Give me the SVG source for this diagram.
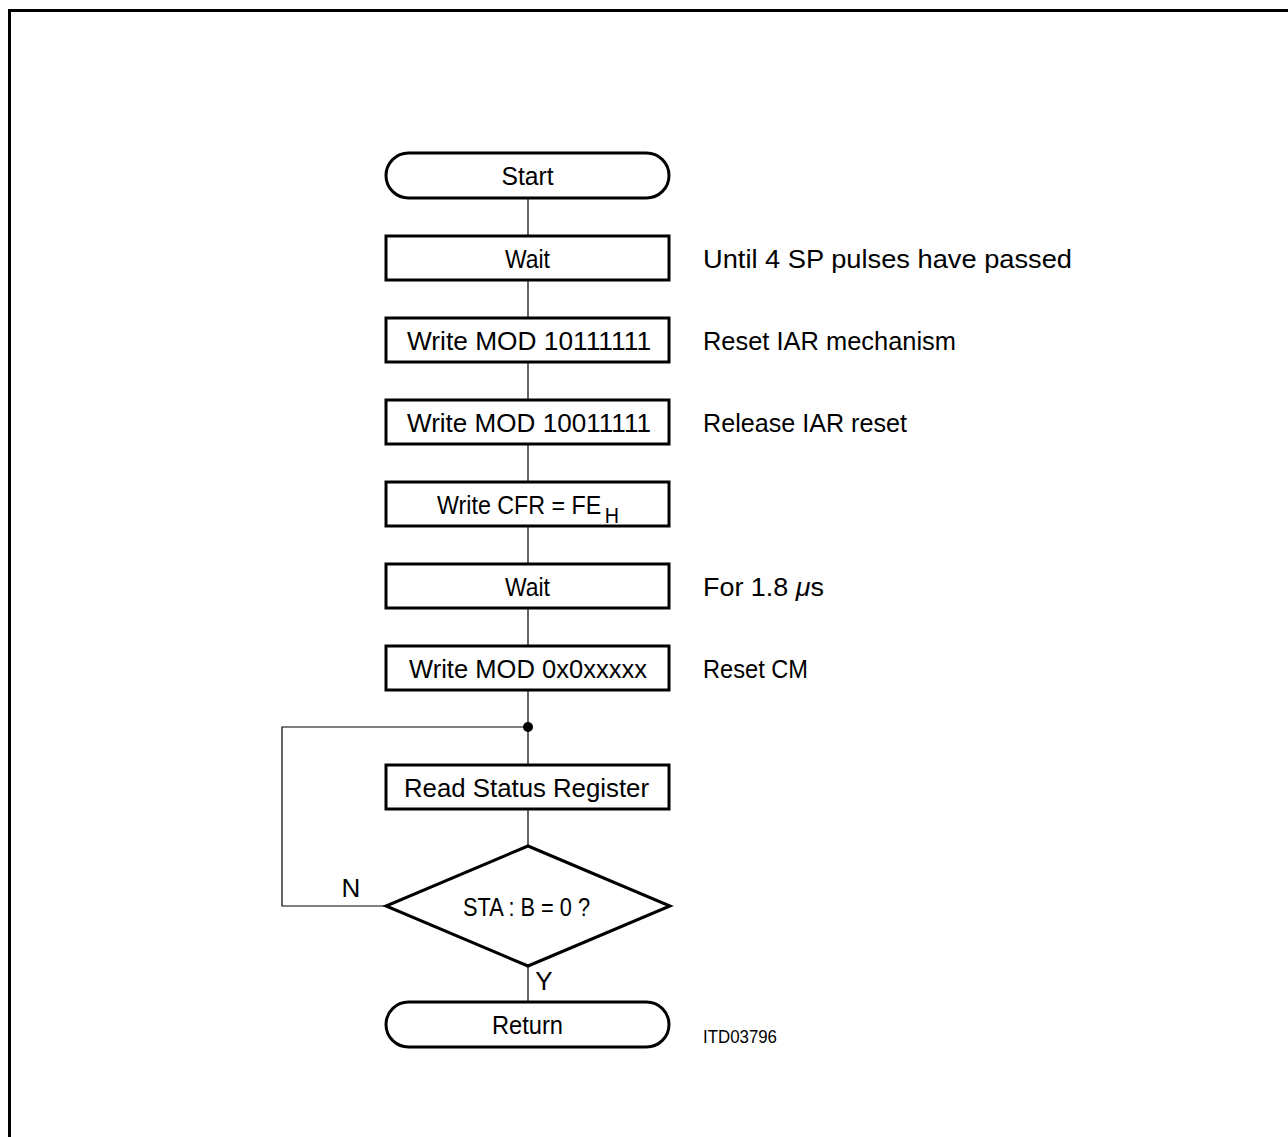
<svg xmlns="http://www.w3.org/2000/svg" width="1288" height="1137" viewBox="0 0 1288 1137">
<style>
.box{fill:#fff;stroke:#000;stroke-width:3}
.con{fill:none;stroke:#000;stroke-width:1.2}
text{font-family:"Liberation Sans",Arial,sans-serif;font-size:26px;fill:#000}
.c{text-anchor:middle}
.sm{font-size:19px}
</style>
<rect x="9.5" y="10.5" width="1300" height="1150" fill="none" stroke="#000" stroke-width="3"/>
<g id="connectors">
<line class="con" x1="528" y1="198" x2="528" y2="236"/>
<line class="con" x1="528" y1="280" x2="528" y2="318"/>
<line class="con" x1="528" y1="362" x2="528" y2="400"/>
<line class="con" x1="528" y1="444" x2="528" y2="482"/>
<line class="con" x1="528" y1="526" x2="528" y2="564"/>
<line class="con" x1="528" y1="608" x2="528" y2="646"/>
<line class="con" x1="528" y1="690" x2="528" y2="765"/>
<line class="con" x1="528" y1="809" x2="528" y2="846"/>
<line class="con" x1="528" y1="966" x2="528" y2="1002"/>
<polyline class="con" points="386,906 282,906 282,727 528,727"/>
<circle cx="528" cy="727" r="5" fill="#000"/>
<text x="351" y="897" class="c">N</text>
<text x="544" y="990" class="c">Y</text>
</g>
<g id="start">
<rect class="box" x="386" y="153" width="283" height="45" rx="22.5"/>
<text x="527.5" y="185" class="c" textLength="52" lengthAdjust="spacingAndGlyphs">Start</text>
</g>
<g id="wait1">
<rect class="box" x="386" y="236" width="283" height="44"/>
<text x="527.5" y="268" class="c" textLength="45" lengthAdjust="spacingAndGlyphs">Wait</text>
</g>
<g id="mod1">
<rect class="box" x="386" y="318" width="283" height="44"/>
<text x="529" y="350" class="c" textLength="244" lengthAdjust="spacingAndGlyphs">Write  MOD  10111111</text>
</g>
<g id="mod2">
<rect class="box" x="386" y="400" width="283" height="44"/>
<text x="529" y="432" class="c" textLength="244" lengthAdjust="spacingAndGlyphs">Write  MOD  10011111</text>
</g>
<g id="cfr">
<rect class="box" x="386" y="482" width="283" height="44"/>
<text x="437" y="514" textLength="182" lengthAdjust="spacingAndGlyphs">Write  CFR = FE<tspan dx="4" dy="9" font-size="22">H</tspan></text>
</g>
<g id="wait2">
<rect class="box" x="386" y="564" width="283" height="44"/>
<text x="527.5" y="596" class="c" textLength="45" lengthAdjust="spacingAndGlyphs">Wait</text>
</g>
<g id="mod3">
<rect class="box" x="386" y="646" width="283" height="44"/>
<text x="528" y="678" class="c" textLength="238" lengthAdjust="spacingAndGlyphs">Write  MOD  0x0xxxxx</text>
</g>
<g id="read">
<rect class="box" x="386" y="765" width="283" height="44"/>
<text x="526.5" y="797" class="c" textLength="245" lengthAdjust="spacingAndGlyphs">Read  Status  Register</text>
</g>
<g id="decision">
<polygon class="box" points="528,846 670,906 528,966 386,906"/>
<text x="526.5" y="916" class="c" textLength="127" lengthAdjust="spacingAndGlyphs">STA : B = 0 ?</text>
</g>
<g id="return">
<rect class="box" x="386" y="1002" width="283" height="45" rx="22.5"/>
<text x="527.5" y="1034" class="c" textLength="71" lengthAdjust="spacingAndGlyphs">Return</text>
</g>
<g id="notes">
<text x="703" y="268" textLength="369" lengthAdjust="spacingAndGlyphs">Until  4  SP  pulses  have  passed</text>
<text x="703" y="350" textLength="253" lengthAdjust="spacingAndGlyphs">Reset  IAR  mechanism</text>
<text x="703" y="432" textLength="204" lengthAdjust="spacingAndGlyphs">Release  IAR  reset</text>
<text x="703" y="596" textLength="121" lengthAdjust="spacingAndGlyphs">For  1.8 <tspan font-style="italic">μ</tspan>s</text>
<text x="703" y="678" textLength="105" lengthAdjust="spacingAndGlyphs">Reset  CM</text>
<text x="703" y="1043" class="sm" textLength="74" lengthAdjust="spacingAndGlyphs">ITD03796</text>
</g>
</svg>
